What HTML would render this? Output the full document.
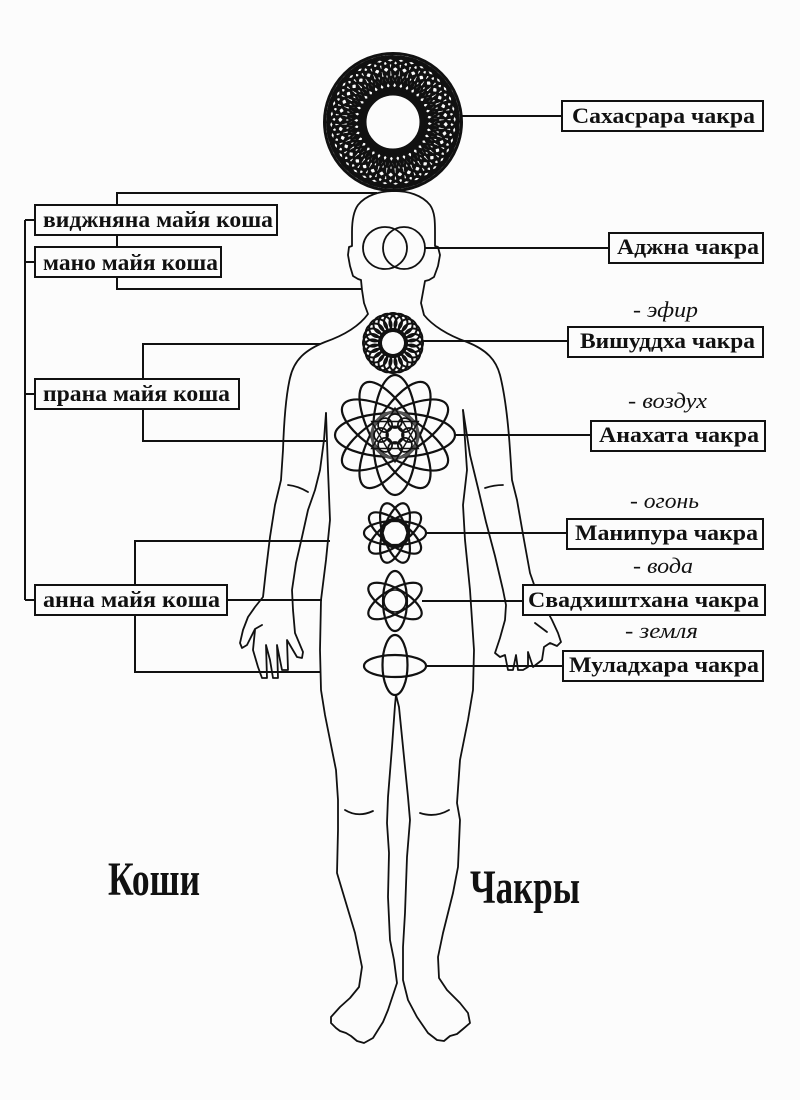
<!DOCTYPE html>
<html><head><meta charset="utf-8"><style>
html,body{margin:0;padding:0;background:#fcfcfc;}
svg{display:block;}
.b{font-family:"Liberation Serif","DejaVu Serif",serif;font-weight:bold;fill:#111;}
.i{font-family:"Liberation Serif","DejaVu Serif",serif;font-style:italic;fill:#111;}
</style></head><body>
<svg width="800" height="1100" viewBox="0 0 800 1100" xmlns="http://www.w3.org/2000/svg">
<rect width="800" height="1100" fill="#fcfcfc"/>
<defs>
<ellipse id="ca" cx="393" cy="75" rx="23" ry="14" transform="rotate(38 393 75)"/>
<ellipse id="cb" cx="393" cy="75" rx="23" ry="14" transform="rotate(-38 393 75)"/>
<circle id="vc" cx="393" cy="322" r="9"/>
<circle id="ac" cx="395" cy="421" r="7"/>
<ellipse id="ae" cx="395" cy="435" rx="60" ry="22"/>
<ellipse id="me" cx="395" cy="533" rx="31" ry="12"/>
<ellipse id="se" cx="395" cy="601" rx="30" ry="12"/>
</defs>

<!-- Crown chakra -->
<g fill="none" stroke="#111" stroke-width="2.4">
<use href="#ca" transform="rotate(0 393 122)"/><use href="#ca" transform="rotate(10 393 122)"/><use href="#ca" transform="rotate(20 393 122)"/><use href="#ca" transform="rotate(30 393 122)"/><use href="#ca" transform="rotate(40 393 122)"/><use href="#ca" transform="rotate(50 393 122)"/><use href="#ca" transform="rotate(60 393 122)"/><use href="#ca" transform="rotate(70 393 122)"/><use href="#ca" transform="rotate(80 393 122)"/><use href="#ca" transform="rotate(90 393 122)"/><use href="#ca" transform="rotate(100 393 122)"/><use href="#ca" transform="rotate(110 393 122)"/><use href="#ca" transform="rotate(120 393 122)"/><use href="#ca" transform="rotate(130 393 122)"/><use href="#ca" transform="rotate(140 393 122)"/><use href="#ca" transform="rotate(150 393 122)"/><use href="#ca" transform="rotate(160 393 122)"/><use href="#ca" transform="rotate(170 393 122)"/><use href="#ca" transform="rotate(180 393 122)"/><use href="#ca" transform="rotate(190 393 122)"/><use href="#ca" transform="rotate(200 393 122)"/><use href="#ca" transform="rotate(210 393 122)"/><use href="#ca" transform="rotate(220 393 122)"/><use href="#ca" transform="rotate(230 393 122)"/><use href="#ca" transform="rotate(240 393 122)"/><use href="#ca" transform="rotate(250 393 122)"/><use href="#ca" transform="rotate(260 393 122)"/><use href="#ca" transform="rotate(270 393 122)"/><use href="#ca" transform="rotate(280 393 122)"/><use href="#ca" transform="rotate(290 393 122)"/><use href="#ca" transform="rotate(300 393 122)"/><use href="#ca" transform="rotate(310 393 122)"/><use href="#ca" transform="rotate(320 393 122)"/><use href="#ca" transform="rotate(330 393 122)"/><use href="#ca" transform="rotate(340 393 122)"/><use href="#ca" transform="rotate(350 393 122)"/>
<use href="#cb" transform="rotate(5 393 122)"/><use href="#cb" transform="rotate(15 393 122)"/><use href="#cb" transform="rotate(25 393 122)"/><use href="#cb" transform="rotate(35 393 122)"/><use href="#cb" transform="rotate(45 393 122)"/><use href="#cb" transform="rotate(55 393 122)"/><use href="#cb" transform="rotate(65 393 122)"/><use href="#cb" transform="rotate(75 393 122)"/><use href="#cb" transform="rotate(85 393 122)"/><use href="#cb" transform="rotate(95 393 122)"/><use href="#cb" transform="rotate(105 393 122)"/><use href="#cb" transform="rotate(115 393 122)"/><use href="#cb" transform="rotate(125 393 122)"/><use href="#cb" transform="rotate(135 393 122)"/><use href="#cb" transform="rotate(145 393 122)"/><use href="#cb" transform="rotate(155 393 122)"/><use href="#cb" transform="rotate(165 393 122)"/><use href="#cb" transform="rotate(175 393 122)"/><use href="#cb" transform="rotate(185 393 122)"/><use href="#cb" transform="rotate(195 393 122)"/><use href="#cb" transform="rotate(205 393 122)"/><use href="#cb" transform="rotate(215 393 122)"/><use href="#cb" transform="rotate(225 393 122)"/><use href="#cb" transform="rotate(235 393 122)"/><use href="#cb" transform="rotate(245 393 122)"/><use href="#cb" transform="rotate(255 393 122)"/><use href="#cb" transform="rotate(265 393 122)"/><use href="#cb" transform="rotate(275 393 122)"/><use href="#cb" transform="rotate(285 393 122)"/><use href="#cb" transform="rotate(295 393 122)"/><use href="#cb" transform="rotate(305 393 122)"/><use href="#cb" transform="rotate(315 393 122)"/><use href="#cb" transform="rotate(325 393 122)"/><use href="#cb" transform="rotate(335 393 122)"/><use href="#cb" transform="rotate(345 393 122)"/><use href="#cb" transform="rotate(355 393 122)"/>
<circle cx="393" cy="122" r="29" stroke-width="5"/>
<circle cx="393" cy="122" r="68.5" stroke-width="3"/>
</g>

<!-- Ajna -->
<g fill="none" stroke="#111" stroke-width="1.8">
<ellipse cx="385" cy="248" rx="22" ry="21"/>
<ellipse cx="404" cy="248" rx="21" ry="21"/>
</g>

<!-- Vishuddha -->
<g fill="none" stroke="#111" stroke-width="2">
<use href="#vc" transform="rotate(0 393 343)"/><use href="#vc" transform="rotate(15 393 343)"/><use href="#vc" transform="rotate(30 393 343)"/><use href="#vc" transform="rotate(45 393 343)"/><use href="#vc" transform="rotate(60 393 343)"/><use href="#vc" transform="rotate(75 393 343)"/><use href="#vc" transform="rotate(90 393 343)"/><use href="#vc" transform="rotate(105 393 343)"/><use href="#vc" transform="rotate(120 393 343)"/><use href="#vc" transform="rotate(135 393 343)"/><use href="#vc" transform="rotate(150 393 343)"/><use href="#vc" transform="rotate(165 393 343)"/><use href="#vc" transform="rotate(180 393 343)"/><use href="#vc" transform="rotate(195 393 343)"/><use href="#vc" transform="rotate(210 393 343)"/><use href="#vc" transform="rotate(225 393 343)"/><use href="#vc" transform="rotate(240 393 343)"/><use href="#vc" transform="rotate(255 393 343)"/><use href="#vc" transform="rotate(270 393 343)"/><use href="#vc" transform="rotate(285 393 343)"/><use href="#vc" transform="rotate(300 393 343)"/><use href="#vc" transform="rotate(315 393 343)"/><use href="#vc" transform="rotate(330 393 343)"/><use href="#vc" transform="rotate(345 393 343)"/>
<circle cx="393" cy="343" r="13" stroke-width="4"/>
</g>

<!-- Anahata -->
<g fill="none" stroke="#111" stroke-width="2.2">
<use href="#ae" transform="rotate(0 395 435)"/><use href="#ae" transform="rotate(30 395 435)"/><use href="#ae" transform="rotate(60 395 435)"/><use href="#ae" transform="rotate(90 395 435)"/><use href="#ae" transform="rotate(120 395 435)"/><use href="#ae" transform="rotate(150 395 435)"/>
<circle cx="395" cy="435" r="23" stroke="#555" stroke-width="3"/>
<path d="M395,408 L418.4,448.5 L371.6,448.5 Z M395,462 L418.4,421.5 L371.6,421.5 Z" stroke-width="1.4"/>
<g stroke-width="1.8">
<use href="#ac" transform="rotate(0 395 435)"/><use href="#ac" transform="rotate(45 395 435)"/><use href="#ac" transform="rotate(90 395 435)"/><use href="#ac" transform="rotate(135 395 435)"/><use href="#ac" transform="rotate(180 395 435)"/><use href="#ac" transform="rotate(225 395 435)"/><use href="#ac" transform="rotate(270 395 435)"/><use href="#ac" transform="rotate(315 395 435)"/>
</g>
<circle cx="395" cy="435" r="8.5" stroke-width="2"/>
</g>

<!-- Manipura -->
<g fill="none" stroke="#111" stroke-width="2.2">
<use href="#me" transform="rotate(0 395 533)"/><use href="#me" transform="rotate(36 395 533)"/><use href="#me" transform="rotate(72 395 533)"/><use href="#me" transform="rotate(108 395 533)"/><use href="#me" transform="rotate(144 395 533)"/>
<circle cx="395" cy="533" r="14" stroke-width="2.6"/>
</g>

<!-- Svadhisthana -->
<g fill="none" stroke="#111" stroke-width="2.2">
<use href="#se" transform="rotate(90 395 601)"/><use href="#se" transform="rotate(30 395 601)"/><use href="#se" transform="rotate(150 395 601)"/>
<circle cx="395" cy="601" r="11" stroke-width="1.6"/>
</g>

<!-- Muladhara -->
<g fill="none" stroke="#111" stroke-width="2.2">
<ellipse cx="395" cy="666" rx="31" ry="11"/>
<ellipse cx="395" cy="665" rx="12.5" ry="30"/>
</g>

<!-- Body -->
<g fill="none" stroke="#111" stroke-width="1.8" stroke-linejoin="round" stroke-linecap="round">
<path d="M394,191 C380,191 366,195 358,205 C353,212 352,222 352,232 L352,246 L349,247 L348,255 L350,266 L353,276 L358,279 L361,280 L362,290 L364,303 L368,314 C360,325 345,335 325,342 C305,350 294,360 290,378 C286,395 284,420 283,450 L281,480 L275,505 L270,537 L266,570 L263,597 L255,607 L248,617 L243,630 L240,643 L242,648 L247,645 L255,629 L262,625"/>
<path d="M255,630 L253,650 L258,667 L262,678 L267,678 L266,645 L270,660 L273,678 L278,678 L277,645 L282,670 L288,670 L287,640 L297,657 L302,658 L303,652 L295,633 L293,610 L292,590 L296,563 L302,537 L308,510 L315,490 L320,470 L324,440 L326,413"/>
<path d="M326,413 L328,470 L330,520 L326,560 L321,600 L320,650 L321,690 L325,715 L331,745 L336,770 L338,800 L338,830 L337,873 L343,893 L355,933 L362,967 L359,987 L350,998 L340,1007 L331,1017 L331,1023 L336,1028 L340,1031 L346,1033 L351,1036 L357,1041 L364,1043 L373,1038 L383,1022 L388,1010 L392,998 L397,983 L394,960 L390,940 L388,897 L389,853 L387,823 L388,797 L392,747 L395,705 L396,695"/>
<path d="M396,695 L399,707 L403,747 L408,797 L410,820 L407,857 L405,913 L403,947 L403,980 L408,1000 L417,1017 L428,1033 L437,1040 L444,1041 L450,1036 L457,1034 L463,1029 L470,1023 L468,1013 L460,1003 L447,990 L439,978 L438,957 L443,933 L453,893 L458,867 L460,820 L457,803 L460,760 L468,720 L473,690 L474,650 L470,590 L465,540 L463,505 L467,470 L465,440 L463,410"/>
<path d="M394,191 C408,191 422,195 430,205 C435,212 435,222 435,232 L435,246 L438,247 L440,255 L438,266 L434,277 L429,280 L425,281 L423,292 L421,303 L424,315 C432,325 447,335 467,342 C487,350 496,360 500,375 C505,395 508,420 510,450 L512,480 L517,500 L524,540 L530,573 L537,593 L545,607 L552,620 L558,633 L561,642 L557,646 L550,643 L544,647 L542,660 L533,667 L528,652 L528,667 L523,670 L518,670 L516,655 L513,670 L508,670 L505,655 L500,657 L495,653 L500,638 L505,620 L506,605 L503,590 L495,556 L486,522 L478,488 L470,455 L463,410"/>
<path d="M535,623 L547,632"/>
<path d="M288,485 Q298,486 308,492"/>
<path d="M485,488 Q494,485 503,485"/>
<path d="M345,810 Q358,818 373,811"/>
<path d="M420,813 Q435,818 449,810"/>
</g>

<!-- Connectors -->
<g fill="none" stroke="#111" stroke-width="2">
<path d="M25,220V600 M25,220H35 M25,262H35 M25,394H35 M25,600H35"/>
<path d="M117,205V193H377 M117,235V247 M117,277V289H362 M143,379V344H320 M143,409V441H326 M135,585V541H330 M227,600H322 M135,615V672H321"/>
<path d="M462,116H562 M425,248H609 M423,341H568 M455,435H591 M427,533H567 M422,601H523 M427,666H563"/>
</g>

<!-- Boxes -->
<g fill="#fcfcfc" stroke="#111" stroke-width="2">
<rect x="35" y="205" width="242" height="30"/>
<rect x="35" y="247" width="186" height="30"/>
<rect x="35" y="379" width="204" height="30"/>
<rect x="35" y="585" width="192" height="30"/>
<rect x="562" y="101" width="201" height="30"/>
<rect x="609" y="233" width="154" height="30"/>
<rect x="568" y="327" width="195" height="30"/>
<rect x="591" y="421" width="174" height="30"/>
<rect x="567" y="519" width="196" height="30"/>
<rect x="523" y="585" width="242" height="30"/>
<rect x="563" y="651" width="200" height="30"/>
</g>

<g class="b" font-size="23">
<text x="43" y="227" textLength="230" lengthAdjust="spacingAndGlyphs">виджняна майя коша</text>
<text x="43" y="270" textLength="175" lengthAdjust="spacingAndGlyphs">мано майя коша</text>
<text x="43" y="401" textLength="187" lengthAdjust="spacingAndGlyphs">прана майя коша</text>
<text x="43" y="607" textLength="177" lengthAdjust="spacingAndGlyphs">анна майя коша</text>
</g>
<g class="b" font-size="22">
<text x="572" y="123" textLength="183" lengthAdjust="spacingAndGlyphs">Сахасрара чакра</text>
<text x="617" y="254" textLength="142" lengthAdjust="spacingAndGlyphs">Аджна чакра</text>
<text x="580" y="348" textLength="175" lengthAdjust="spacingAndGlyphs">Вишуддха чакра</text>
<text x="599" y="442" textLength="160" lengthAdjust="spacingAndGlyphs">Анахата чакра</text>
<text x="575" y="540" textLength="183" lengthAdjust="spacingAndGlyphs">Манипура чакра</text>
<text x="528" y="607" textLength="231" lengthAdjust="spacingAndGlyphs">Свадхиштхана чакра</text>
<text x="569" y="672" textLength="190" lengthAdjust="spacingAndGlyphs">Муладхара чакра</text>
</g>

<g class="i" font-size="22">
<text x="633" y="317" textLength="65" lengthAdjust="spacingAndGlyphs">- эфир</text>
<text x="628" y="408" textLength="79" lengthAdjust="spacingAndGlyphs">- воздух</text>
<text x="630" y="508" textLength="69" lengthAdjust="spacingAndGlyphs">- огонь</text>
<text x="633" y="573" textLength="60" lengthAdjust="spacingAndGlyphs">- вода</text>
<text x="625" y="638" textLength="73" lengthAdjust="spacingAndGlyphs">- земля</text>
</g>

<g class="b" font-size="48">
<text x="108" y="895" textLength="92" lengthAdjust="spacingAndGlyphs">Коши</text>
<text x="470" y="903" textLength="110" lengthAdjust="spacingAndGlyphs">Чакры</text>
</g>
</svg>
</body></html>
